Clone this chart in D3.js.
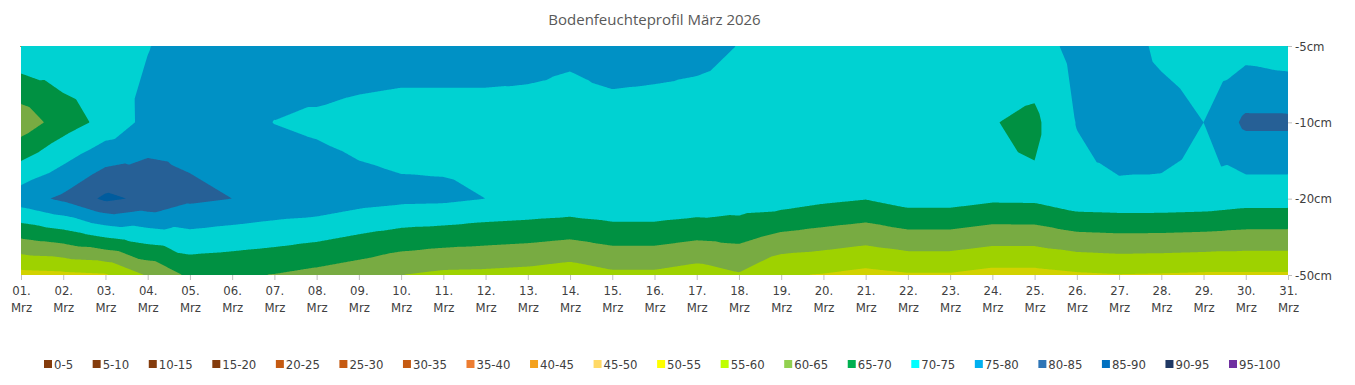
<!DOCTYPE html>
<meta charset="utf-8">
<style>
body { margin: 0; background: #fff; }
.axis text { font: 13px "DejaVu Sans Condensed", "Liberation Sans Narrow", "DejaVu Sans", sans-serif; fill: #404040; }
.axis line { stroke: #bfbfbf; }
.axis .domain { display: none; }
.legend text { font: 13px "DejaVu Sans Condensed", "Liberation Sans Narrow", "DejaVu Sans", sans-serif; fill: #404040; }
.title { font: 15px "Open Sans", sans-serif; fill: #595959; }
</style>
<body>
<script src="https://cdn.jsdelivr.net/npm/d3@7"></script>
<script>

// days of march
var days = d3.range(1, 32).map(function(d) { return (d < 10 ? "0" : "") + d + "."; });
var month = "Mrz";
var depths = ["-5cm", "-10cm", "-20cm", "-50cm"];

// soil moisture per depth (%)
var moist5  = [74.5, 74, 73.5, 74.8, 77.5, 78, 78, 79, 78.5, 78, 78, 78, 77, 76, 77.6, 77,
               76.3, 74.9, 73, 73, 73, 73, 73, 73, 73, 76.4, 78.5, 73.5, 72, 73, 72];
var moist10 = [62, 67.5, 71.5, 76.5, 78, 77, 74.9, 74, 73, 72.5, 72.5, 72.5, 73, 73, 73, 73,
               73, 73, 72.5, 72.5, 72.5, 72.5, 72, 70.2, 69, 75.2, 78.5, 78, 75, 81, 81];
var moist20 = [77.8, 81, 86, 84, 81, 80, 79, 78.5, 77, 76.2, 76, 75, 74.5, 74, 74.8, 74.8,
               74, 73, 72.5, 71.1, 70.2, 72.1, 72.1, 70.9, 71, 73.2, 73.5, 73.5, 73.2, 72.2, 72.2];
var moist50 = [53.3, 53.8, 54.5, 60.5, 66, 65.5, 64.8, 63.5, 62, 60, 58.9, 58.7, 58.2, 57.1, 58.9, 58.9,
               57.5, 59.5, 55.3, 54.7, 53.5, 54.5, 54.5, 53.3, 53.3, 54.3, 54.8, 54.6, 54.3, 54.3, 54.3];

var bands = ["0-5", "5-10", "10-15", "15-20", "20-25", "25-30", "30-35", "35-40", "40-45", "45-50",
             "50-55", "55-60", "60-65", "65-70", "70-75", "75-80", "80-85", "85-90", "90-95", "95-100"];
var bandColors = ["#843c0c", "#843c0c", "#843c0c", "#843c0c", "#c55a11", "#c55a11", "#c55a11", "#ed7d31",
                  "#f4a11c", "#ffd966", "#ffff00", "#c0ff00", "#92d050", "#00b050", "#00ffff", "#00b0f0",
                  "#2e75b6", "#0070c0", "#203864", "#7030a0"];

var width = 1355, height = 385;
var svg = d3.select("body").append("svg").attr("width", width).attr("height", height);

var x = d3.scalePoint().domain(days).range([21, 1288]);
var y = d3.scalePoint().domain(depths).range([46, 275]);
var x0 = x.range()[0], x1 = x.range()[1], y0 = y.range()[0], y1 = y.range()[1];

svg.append("text").attr("class", "title")
    .attr("x", (x0 + x1) / 2).attr("y", 25)
    .attr("text-anchor", "middle")
    .text("Bodenfeuchteprofil März 2026");

var grid = [moist5, moist10, moist20, moist50];

// linear interpolation on 4 triangles per cell (corners + centre)
function valueAt(u, v) {
  var i = Math.min(Math.floor(u), days.length - 2), j = Math.min(Math.floor(v), depths.length - 2);
  var a = u - i, b = v - j;
  var z00 = grid[j][i], z10 = grid[j][i + 1], z01 = grid[j + 1][i], z11 = grid[j + 1][i + 1];
  var zc = (z00 + z10 + z01 + z11) / 4;
  if (b <= a && b <= 1 - a) return z00 + (z10 - z00) * a + (zc - (z00 + z10) / 2) * 2 * b;
  if (b >= a && b >= 1 - a) return z01 + (z11 - z01) * a + (zc - (z01 + z11) / 2) * 2 * (1 - b);
  if (a <= b && a <= 1 - b) return z00 + (z01 - z00) * b + (zc - (z00 + z01) / 2) * 2 * a;
  return z10 + (z11 - z10) * b + (zc - (z10 + z11) / 2) * 2 * (1 - a);
}

var nx = Math.round(x1 - x0), ny = Math.round(y1 - y0);
var values = new Float64Array(nx * ny);
for (var r = 0; r < ny; r++) {
  var py = y0 + (r + 0.5) * (y1 - y0) / ny;
  var v = (py - y0) / y.step();
  for (var c = 0; c < nx; c++) {
    var px = x0 + (c + 0.5) * (x1 - x0) / nx;
    values[r * nx + c] = valueAt((px - x0) / x.step(), v);
  }
}

var thresholds = bands.map(function(d) { return +d.split("-")[0]; });
var contours = d3.contours().size([nx, ny]).thresholds(thresholds)(values);

var path = d3.geoPath(d3.geoTransform({
  point: function(px, py) {
    this.stream.point(x0 + px * (x1 - x0) / nx, y0 + py * (y1 - y0) / ny);
  }
}));

// nested contours painted from low to high, so no seams between bands
var plot = svg.append("g");
plot.selectAll("path")
  .data(contours)
  .enter().append("path")
    .attr("d", path)
    .attr("fill", function(d, i) { return d3.color(bandColors[i]).darker(0.55); });

// x axis
var xAxis = svg.append("g").attr("class", "axis")
    .attr("transform", "translate(0," + y1 + ")")
    .call(d3.axisBottom(x).tickSize(5).tickPadding(6));
xAxis.selectAll(".tick text").each(function(d) {
  var t = d3.select(this).text("");
  t.append("tspan").attr("x", 0).attr("dy", "0.71em").text(d);
  t.append("tspan").attr("x", 0).attr("dy", "1.3em").text(month);
});

// depth axis on the right
svg.append("g").attr("class", "axis")
    .attr("transform", "translate(" + x1 + ",0)")
    .call(d3.axisRight(y).tickSize(4).tickPadding(3));

// legend
var legend = svg.append("g").attr("class", "legend");
var items = legend.selectAll("g").data(bands).enter().append("g");
items.append("rect").attr("width", 8).attr("height", 8).attr("y", 360)
    .attr("fill", function(d, i) { return bandColors[i]; });
items.append("text").attr("x", 10).attr("y", 368.5).text(function(d) { return d; });
var widths = [];
items.select("text").each(function() { widths.push(this.getComputedTextLength()); });
var first = 44, last = 1229;
var used = d3.sum(widths.slice(0, -1)) + 10 * (bands.length - 1);
var gap = (last - first - used) / (bands.length - 1);
var pos = first;
items.attr("transform", function(d, i) {
  var p = pos;
  pos += 10 + widths[i] + gap;
  return "translate(" + p + ",0)";
});

</script>
</body>
